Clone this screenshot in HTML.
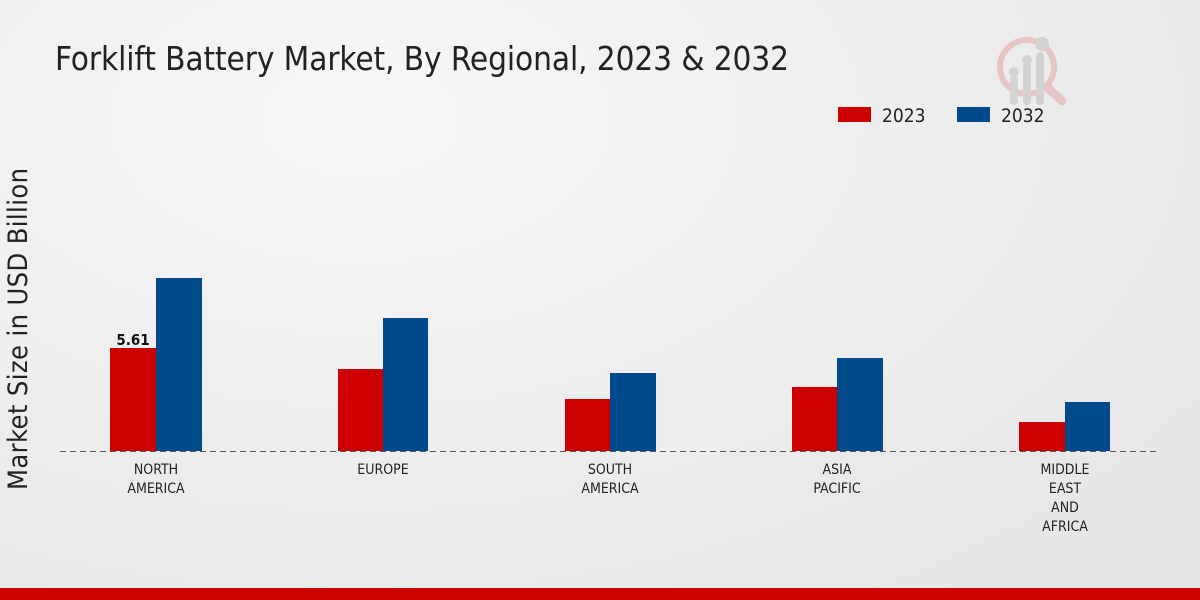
<!DOCTYPE html>
<html><head><style>
body{margin:0;width:1200px;height:600px;overflow:hidden;background:radial-gradient(ellipse at 30% 20%,#f7f7f7 0%,#ebebeb 60%,#e4e4e4 100%);font-family:"DejaVu Sans Condensed","DejaVu Sans","Liberation Sans",sans-serif;}
</style></head><body>
<svg width="1200" height="600" xmlns="http://www.w3.org/2000/svg" style="position:absolute;left:0;top:0">
<text x="55" y="70" font-size="33" fill="#222" textLength="734" font-family="DejaVu Sans Condensed,DejaVu Sans,sans-serif">Forklift Battery Market, By Regional, 2023 &amp; 2032</text>
<g opacity="0.5">
<circle cx="1027" cy="67" r="27" fill="none" stroke="#e3a0a0" stroke-width="6"/>
<line x1="1047" y1="87" x2="1062" y2="101" stroke="#e3a0a0" stroke-width="9" stroke-linecap="round"/>
<rect x="1010" y="75" width="8" height="30" rx="4" fill="#bbb"/>
<rect x="1023" y="62" width="8" height="43" rx="4" fill="#bbb"/>
<rect x="1036" y="52" width="8" height="53" rx="4" fill="#bbb"/>
<circle cx="1014" cy="72" r="5" fill="#bbb"/><circle cx="1027" cy="60" r="5" fill="#bbb"/><circle cx="1042" cy="44" r="7" fill="#bbb"/>
</g>
<rect x="838" y="107" width="33" height="15" fill="#cc0000"/>
<text x="882" y="122" font-size="19" fill="#222">2023</text>
<rect x="957" y="107" width="33" height="15" fill="#004a8c"/>
<text x="1001" y="122" font-size="19" fill="#222">2032</text>
<text transform="translate(27,329) rotate(-90)" text-anchor="middle" font-size="27" fill="#222" font-family="DejaVu Sans Condensed,DejaVu Sans,sans-serif" textLength="322">Market Size in USD Billion</text>
<g>
<rect x="110" y="348" width="46" height="103" fill="#cc0000"/><rect x="156" y="278" width="46" height="173" fill="#004a8c"/>
<rect x="338" y="369" width="45" height="82" fill="#cc0000"/><rect x="383" y="318" width="45" height="133" fill="#004a8c"/>
<rect x="565" y="399" width="45" height="52" fill="#cc0000"/><rect x="610" y="373" width="46" height="78" fill="#004a8c"/>
<rect x="792" y="387" width="45" height="64" fill="#cc0000"/><rect x="837" y="358" width="46" height="93" fill="#004a8c"/>
<rect x="1019" y="422" width="46" height="29" fill="#cc0000"/><rect x="1065" y="402" width="45" height="49" fill="#004a8c"/>
</g>
<text x="133" y="345" text-anchor="middle" font-size="15" font-weight="bold" fill="#111">5.61</text>
<line x1="60" y1="451.5" x2="1160" y2="451.5" stroke="#555" stroke-width="1" stroke-dasharray="6,4"/>
<g font-size="14" fill="#222" text-anchor="middle">
<text x="156" y="474">NORTH</text><text x="156" y="493">AMERICA</text>
<text x="383" y="474">EUROPE</text>
<text x="610" y="474">SOUTH</text><text x="610" y="493">AMERICA</text>
<text x="837" y="474">ASIA</text><text x="837" y="493">PACIFIC</text>
<text x="1065" y="474">MIDDLE</text><text x="1065" y="493">EAST</text><text x="1065" y="512">AND</text><text x="1065" y="531">AFRICA</text>
</g>
<rect x="0" y="588" width="1200" height="12" fill="#cc0000"/>
</svg>
</body></html>
